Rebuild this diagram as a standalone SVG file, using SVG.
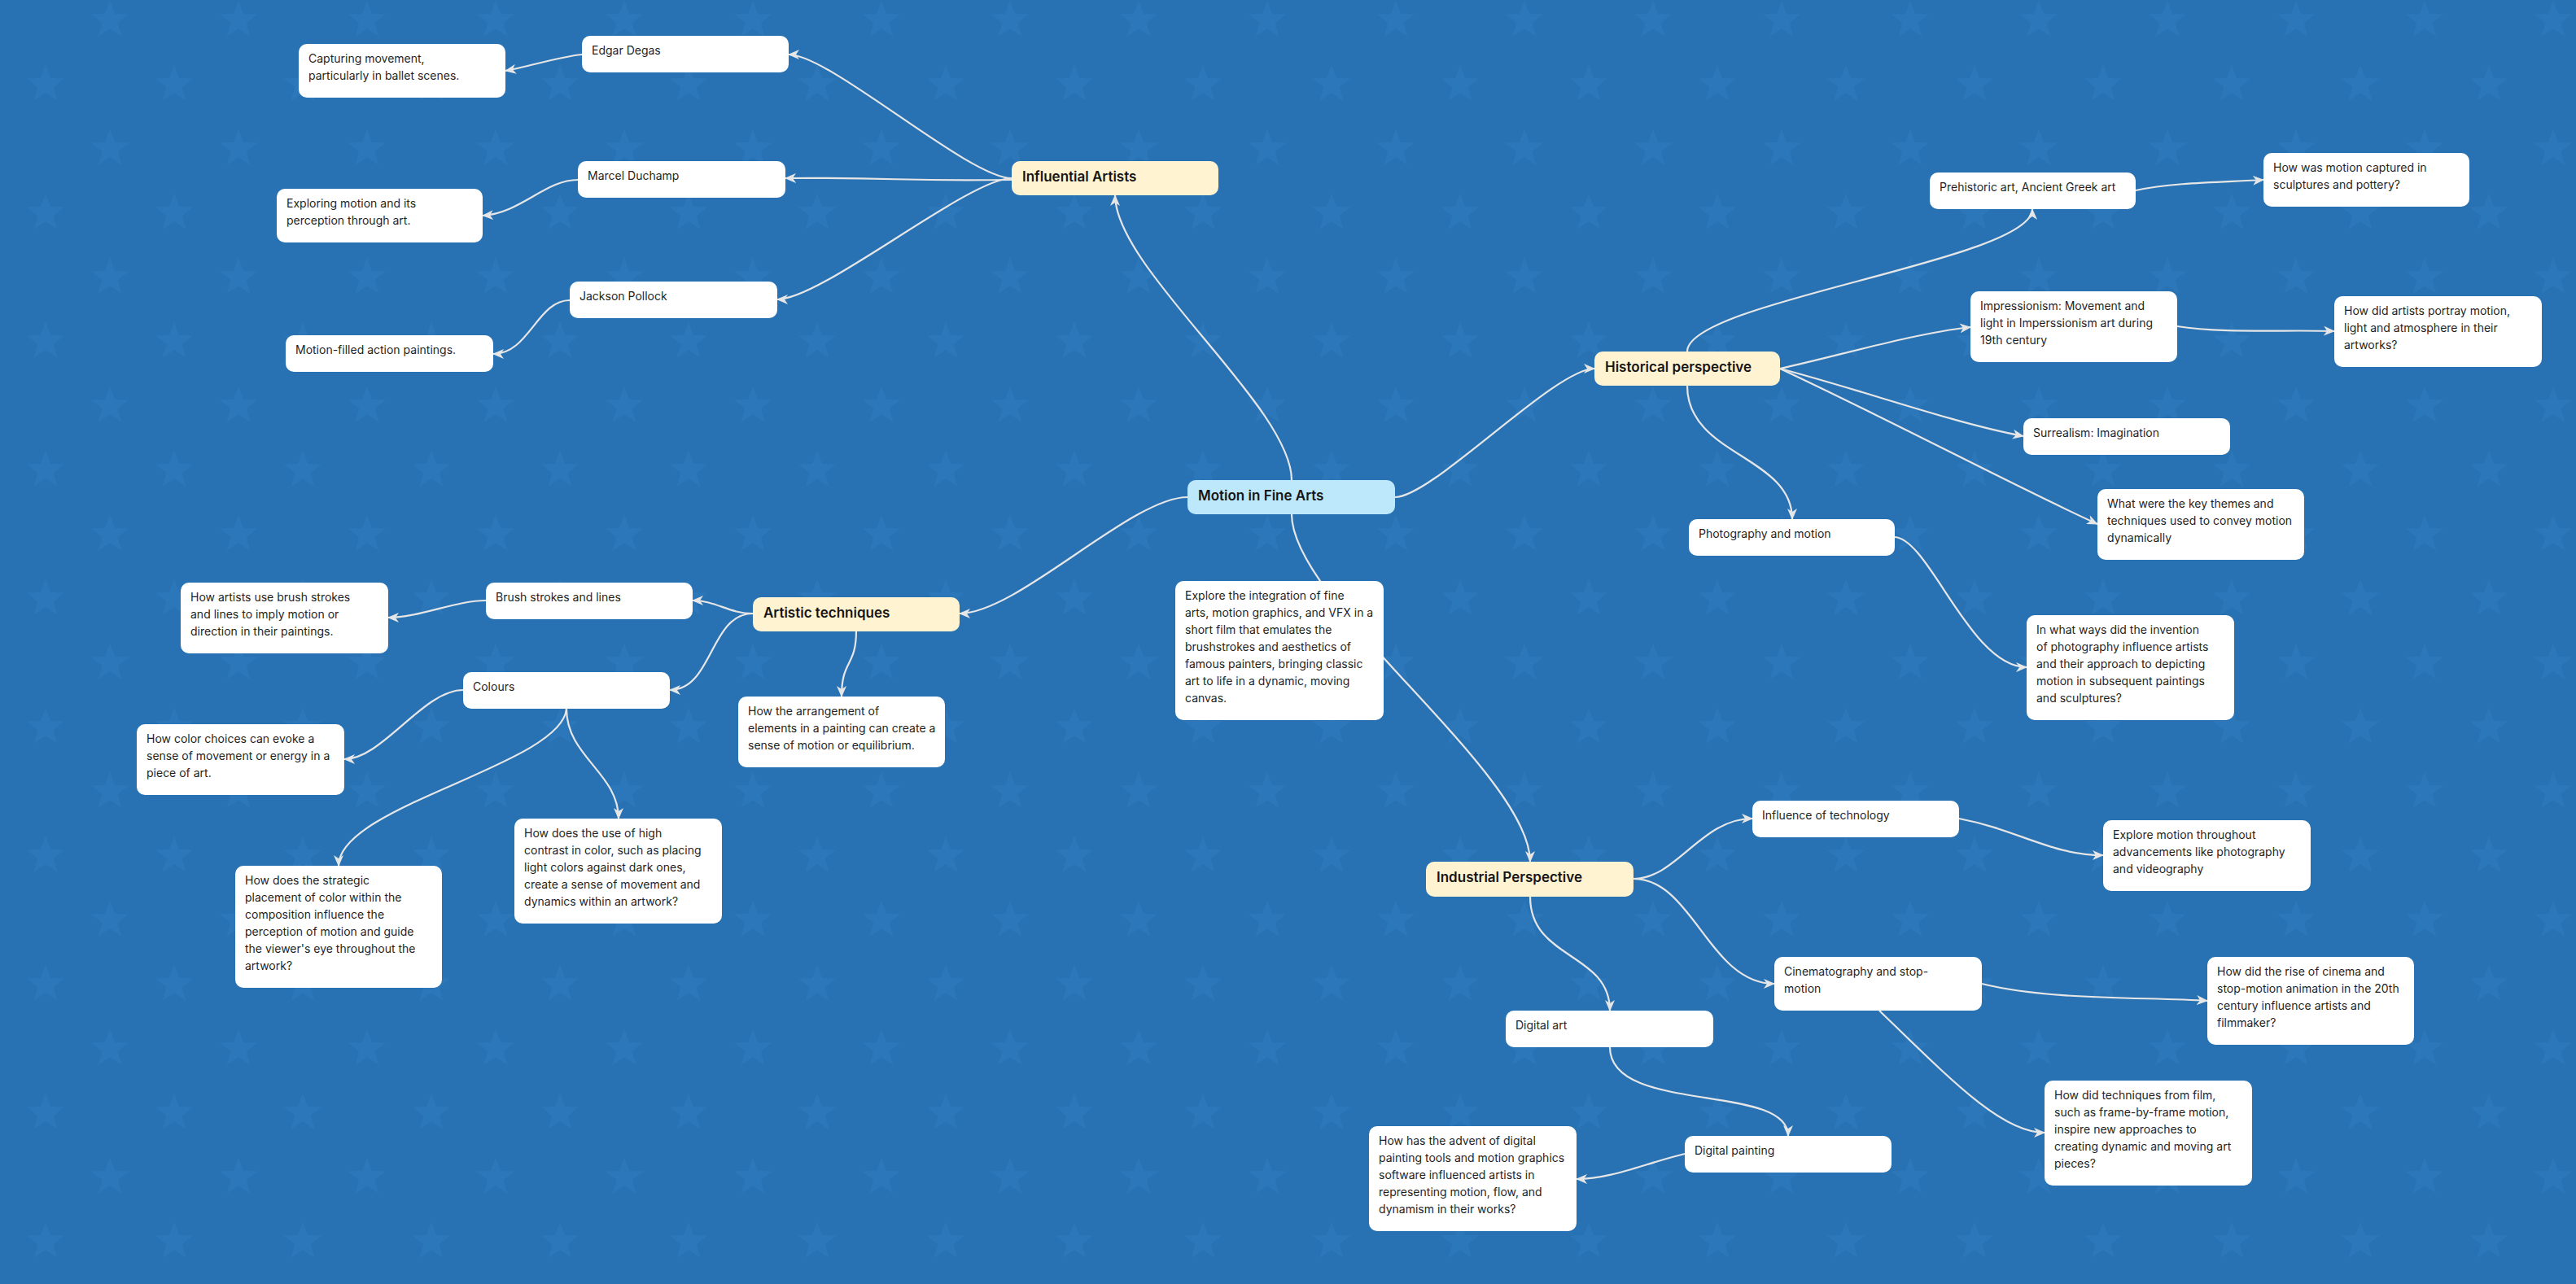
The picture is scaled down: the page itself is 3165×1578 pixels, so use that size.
<svg xmlns="http://www.w3.org/2000/svg" width="3165" height="1578" viewBox="0 0 3165 1578">
<style>
.n rect{fill:#ffffff}
.hd rect{fill:#fff3d1}
.mn rect{fill:#bde8fb}
text{font-family:Inter,"Noto Sans","Liberation Sans",sans-serif;font-size:14px;fill:#1f1f1f}
.hd text,.mn text{font-size:17px;font-weight:600;fill:#151515}
#connectors path{fill:none;stroke:#e6e6e6;stroke-width:2.2;marker-end:url(#arr)}
.st{fill:#3a8ccc;opacity:0.2}
</style>
<defs>
<marker id="arr" viewBox="0 0 14 12" refX="13" refY="6" markerWidth="14" markerHeight="12" markerUnits="userSpaceOnUse" orient="auto">
<path d="M0,0 L14,6 L0,12 L4,6 Z" fill="#e6e6e6"/>
</marker>
<path id="star" d="M0,-24 L5.88,-8.09 L22.83,-7.42 L9.51,3.09 L14.11,19.42 L0,10 L-14.11,19.42 L-9.51,3.09 L-22.83,-7.42 L-5.88,-8.09 Z"/>
<pattern id="stars" x="0" y="0" width="158" height="158" patternUnits="userSpaceOnUse">
<use href="#star" x="135" y="25" class="st"/>
<use href="#star" x="56" y="104" class="st"/>
<use href="#star" x="-23" y="25" class="st"/>
<use href="#star" x="135" y="183" class="st"/>
<use href="#star" x="-23" y="183" class="st"/>
</pattern>
</defs>
<rect width="3165" height="1578" fill="#2872b4"/>
<rect width="3165" height="1578" fill="url(#stars)"/>

<g id="connectors">
<path d="M1587,590 C1587,500 1370,330 1370,240"/>
<path d="M1587,632 C1587,740 1880,950 1880,1059"/>
<path d="M1459,611 C1390,611 1250,754 1179,754"/>
<path d="M1714,611 C1760,611 1910,453 1959,453"/>
<path d="M1243,219 C1190,219 1020,67 969,67"/>
<path d="M1243,221 C1100,223 1110,218 965,219"/>
<path d="M1243,219 C1190,219 1010,368 955,368"/>
<path d="M715,67 C685,70 650,82 621,87"/>
<path d="M710,221 C670,221 640,262 593,265"/>
<path d="M700,369 C660,369 650,435 606,435"/>
<path d="M925,754 C895,754 880,738 851,738"/>
<path d="M925,754 C872,754 876,848 823,848"/>
<path d="M1052,775 C1052,820 1034,810 1034,856"/>
<path d="M597,738 C560,738 515,759 477,759"/>
<path d="M569,848 C520,848 470,933 423,933"/>
<path d="M696,871 C690,940 416,990 416,1064"/>
<path d="M696,871 C696,930 760,950 760,1006"/>
<path d="M2073,432 C2073,370 2497,320 2497,257"/>
<path d="M2187,453 C2260,437 2350,410 2421,402"/>
<path d="M2187,453 C2290,480 2400,520 2486,536"/>
<path d="M2187,453 C2330,520 2480,600 2577,644"/>
<path d="M2073,474 C2073,560 2202,560 2202,638"/>
<path d="M2624,234 C2670,224 2730,224 2781,221"/>
<path d="M2675,401 C2730,410 2810,405 2868,407"/>
<path d="M2327,660 C2370,660 2420,820 2490,820"/>
<path d="M2007,1080 C2060,1080 2090,1006 2153,1006"/>
<path d="M2007,1080 C2080,1080 2100,1209 2180,1209"/>
<path d="M1880,1102 C1880,1180 1978,1170 1978,1242"/>
<path d="M2407,1006 C2480,1020 2520,1051 2584,1051"/>
<path d="M2435,1209 C2520,1230 2640,1225 2712,1230"/>
<path d="M2309,1242 C2400,1330 2460,1392 2512,1392"/>
<path d="M1978,1287 C1978,1370 2197,1330 2197,1396"/>
<path d="M2070,1418 C2020,1430 1980,1449 1937,1449"/>
</g>

<g id="main" class="mn"><rect x="1459" y="590" width="255" height="42" rx="10"/><text x="1472" y="615">Motion in Fine Arts</text></g>
<g id="desc" class="n"><rect x="1444" y="714" width="256" height="171" rx="10"/>
<text x="1456" y="737">Explore the integration of fine</text>
<text x="1456" y="758">arts, motion graphics, and VFX in a</text>
<text x="1456" y="779">short film that emulates the</text>
<text x="1456" y="800">brushstrokes and aesthetics of</text>
<text x="1456" y="821">famous painters, bringing classic</text>
<text x="1456" y="842">art to life in a dynamic, moving</text>
<text x="1456" y="863">canvas.</text></g>

<g id="influential" class="hd"><rect x="1243" y="198" width="254" height="42" rx="10"/><text x="1256" y="223">Influential Artists</text></g>
<g id="degas" class="n"><rect x="715" y="44" width="254" height="45" rx="10"/><text x="727" y="67">Edgar Degas</text></g>
<g id="capturing" class="n"><rect x="367" y="54" width="254" height="66" rx="10"/><text x="379" y="77">Capturing movement,</text><text x="379" y="98">particularly in ballet scenes.</text></g>
<g id="duchamp" class="n"><rect x="710" y="198" width="255" height="45" rx="10"/><text x="722" y="221">Marcel Duchamp</text></g>
<g id="exploring" class="n"><rect x="340" y="232" width="253" height="66" rx="10"/><text x="352" y="255">Exploring motion and its</text><text x="352" y="276">perception through art.</text></g>
<g id="pollock" class="n"><rect x="700" y="346" width="255" height="45" rx="10"/><text x="712" y="369">Jackson Pollock</text></g>
<g id="motionfilled" class="n"><rect x="351" y="412" width="255" height="45" rx="10"/><text x="363" y="435">Motion-filled action paintings.</text></g>

<g id="historical" class="hd"><rect x="1959" y="432" width="228" height="42" rx="10"/><text x="1972" y="457">Historical perspective</text></g>
<g id="prehistoric" class="n"><rect x="2371" y="212" width="253" height="45" rx="10"/><text x="2383" y="235">Prehistoric art, Ancient Greek art</text></g>
<g id="howwas" class="n"><rect x="2781" y="188" width="253" height="66" rx="10"/><text x="2793" y="211">How was motion captured in</text><text x="2793" y="232">sculptures and pottery?</text></g>
<g id="impressionism" class="n"><rect x="2421" y="358" width="254" height="87" rx="10"/><text x="2433" y="381">Impressionism: Movement and</text><text x="2433" y="402">light in Imperssionism art during</text><text x="2433" y="423">19th century</text></g>
<g id="howdidartists" class="n"><rect x="2868" y="364" width="255" height="87" rx="10"/><text x="2880" y="387">How did artists portray motion,</text><text x="2880" y="408">light and atmosphere in their</text><text x="2880" y="429">artworks?</text></g>
<g id="surrealism" class="n"><rect x="2486" y="514" width="254" height="45" rx="10"/><text x="2498" y="537">Surrealism: Imagination</text></g>
<g id="keythemes" class="n"><rect x="2577" y="601" width="254" height="87" rx="10"/><text x="2589" y="624">What were the key themes and</text><text x="2589" y="645">techniques used to convey motion</text><text x="2589" y="666">dynamically</text></g>
<g id="photography" class="n"><rect x="2075" y="638" width="253" height="45" rx="10"/><text x="2087" y="661">Photography and motion</text></g>
<g id="inwhatways" class="n"><rect x="2490" y="756" width="255" height="129" rx="10"/><text x="2502" y="779">In what ways did the invention</text><text x="2502" y="800">of photography influence artists</text><text x="2502" y="821">and their approach to depicting</text><text x="2502" y="842">motion in subsequent paintings</text><text x="2502" y="863">and sculptures?</text></g>

<g id="industrial" class="hd"><rect x="1752" y="1059" width="255" height="43" rx="10"/><text x="1765" y="1084">Industrial Perspective</text></g>
<g id="techinfluence" class="n"><rect x="2153" y="984" width="254" height="45" rx="10"/><text x="2165" y="1007">Influence of technology</text></g>
<g id="exploremotion" class="n"><rect x="2584" y="1008" width="255" height="87" rx="10"/><text x="2596" y="1031">Explore motion throughout</text><text x="2596" y="1052">advancements like photography</text><text x="2596" y="1073">and videography</text></g>
<g id="cinematography" class="n"><rect x="2180" y="1176" width="255" height="66" rx="10"/><text x="2192" y="1199">Cinematography and stop-</text><text x="2192" y="1220">motion</text></g>
<g id="riseofcinema" class="n"><rect x="2712" y="1176" width="254" height="108" rx="10"/><text x="2724" y="1199">How did the rise of cinema and</text><text x="2724" y="1220">stop-motion animation in the 20th</text><text x="2724" y="1241">century influence artists and</text><text x="2724" y="1262">filmmaker?</text></g>
<g id="techniquesfilm" class="n"><rect x="2512" y="1328" width="255" height="129" rx="10"/><text x="2524" y="1351">How did techniques from film,</text><text x="2524" y="1372">such as frame-by-frame motion,</text><text x="2524" y="1393">inspire new approaches to</text><text x="2524" y="1414">creating dynamic and moving art</text><text x="2524" y="1435">pieces?</text></g>
<g id="digitalart" class="n"><rect x="1850" y="1242" width="255" height="45" rx="10"/><text x="1862" y="1265">Digital art</text></g>
<g id="digitalpainting" class="n"><rect x="2070" y="1396" width="254" height="45" rx="10"/><text x="2082" y="1419">Digital painting</text></g>
<g id="advent" class="n"><rect x="1682" y="1384" width="255" height="129" rx="10"/><text x="1694" y="1407">How has the advent of digital</text><text x="1694" y="1428">painting tools and motion graphics</text><text x="1694" y="1449">software influenced artists in</text><text x="1694" y="1470">representing motion, flow, and</text><text x="1694" y="1491">dynamism in their works?</text></g>

<g id="artistic" class="hd"><rect x="925" y="734" width="254" height="42" rx="10"/><text x="938" y="759">Artistic techniques</text></g>
<g id="brush" class="n"><rect x="597" y="716" width="254" height="45" rx="10"/><text x="609" y="739">Brush strokes and lines</text></g>
<g id="howartists" class="n"><rect x="222" y="716" width="255" height="87" rx="10"/><text x="234" y="739">How artists use brush strokes</text><text x="234" y="760">and lines to imply motion or</text><text x="234" y="781">direction in their paintings.</text></g>
<g id="colours" class="n"><rect x="569" y="826" width="254" height="45" rx="10"/><text x="581" y="849">Colours</text></g>
<g id="arrangement" class="n"><rect x="907" y="856" width="254" height="87" rx="10"/><text x="919" y="879">How the arrangement of</text><text x="919" y="900">elements in a painting can create a</text><text x="919" y="921">sense of motion or equilibrium.</text></g>
<g id="colorchoices" class="n"><rect x="168" y="890" width="255" height="87" rx="10"/><text x="180" y="913">How color choices can evoke a</text><text x="180" y="934">sense of movement or energy in a</text><text x="180" y="955">piece of art.</text></g>
<g id="highcontrast" class="n"><rect x="632" y="1006" width="255" height="129" rx="10"/><text x="644" y="1029">How does the use of high</text><text x="644" y="1050">contrast in color, such as placing</text><text x="644" y="1071">light colors against dark ones,</text><text x="644" y="1092">create a sense of movement and</text><text x="644" y="1113">dynamics within an artwork?</text></g>
<g id="strategic" class="n"><rect x="289" y="1064" width="254" height="150" rx="10"/><text x="301" y="1087">How does the strategic</text><text x="301" y="1108">placement of color within the</text><text x="301" y="1129">composition influence the</text><text x="301" y="1150">perception of motion and guide</text><text x="301" y="1171">the viewer's eye throughout the</text><text x="301" y="1192">artwork?</text></g>
</svg>
